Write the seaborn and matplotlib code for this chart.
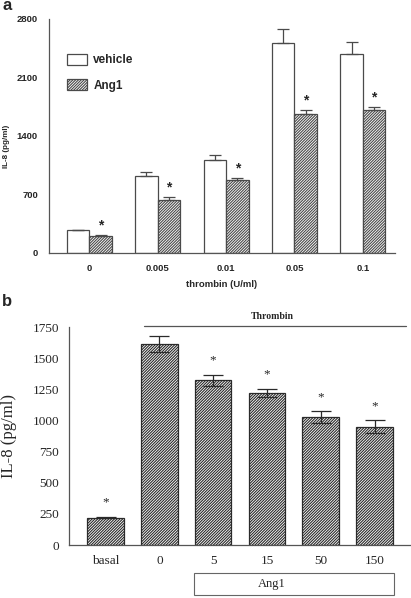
import pandas as pd
import numpy as np
import matplotlib
matplotlib.use("Agg")
import matplotlib.pyplot as plt
import seaborn as sns
from matplotlib.patches import Patch, Rectangle
from matplotlib.lines import Line2D

# ─── data ──────────────────────────────────────────────
# panel a : thrombin dose, vehicle vs Ang1
thrombin_doses = ["0", "0.005", "0.01", "0.05", "0.1"]
vehicle_mean = [270, 920, 1105, 2510, 2375]
vehicle_err = [5, 50, 60, 170, 145]
ang1_mean = [195, 625, 875, 1655, 1705]
ang1_err = [12, 38, 15, 48, 35]
groups = ["vehicle", "Ang1"]

# panel b : Ang1 dose under thrombin
ang1_doses = ["basal", "0", "5", "15", "50", "150"]
il8_mean = [219, 1614, 1323, 1221, 1026, 951]
il8_err = [5, 67, 45, 35, 46, 49]
star_b = [True, False, True, True, True, True]

HATCH = "/" * 12

sns.set_style("white")
plt.rcParams["hatch.linewidth"] = 0.8
plt.rcParams["hatch.color"] = "#333333"

fig = plt.figure(figsize=(4.11, 5.98), dpi=100)
W, H = 411, 598

def fax(l, t, r, b):
    return fig.add_axes([l / W, 1 - b / H, (r - l) / W, (b - t) / H])

# ─── panel a ──────────────────────────────────────────
axa = fax(49, 18.5, 395, 252.7)
dfa = pd.DataFrame({
    "thrombin": thrombin_doses * 2,
    "IL8": vehicle_mean + ang1_mean,
    "group": ["vehicle"] * 5 + ["Ang1"] * 5,
})
sns.barplot(data=dfa, x="thrombin", y="IL8", hue="group",
            order=thrombin_doses, hue_order=groups,
            palette=["white", "white"], edgecolor="#4a4a4a", linewidth=0.9,
            width=0.66, gap=0, errorbar=None, legend=False, ax=axa)
bars = axa.patches
for p in bars[5:]:
    p.set_hatch(HATCH)

xs = [p.get_x() + p.get_width() / 2 for p in bars]
tops = vehicle_mean + ang1_mean
errs = vehicle_err + ang1_err
axa.errorbar(xs, tops, yerr=[np.zeros(10), errs], fmt="none",
             ecolor="#4a4a4a", elinewidth=0.9, capsize=4.3, capthick=0.9)
for x, t, e in zip(xs[5:], ang1_mean, ang1_err):
    axa.annotate("*", (x, t + e), xytext=(0, 2), textcoords="offset points",
                 ha="center", va="bottom", fontsize=10, fontweight="bold",
                 family="Liberation Sans")

axa.set_xlim(-0.59, 4.47)
axa.set_ylim(0, 2800)
axa.set_yticks([0, 700, 1400, 2100, 2800])
for s in ["top", "right"]:
    axa.spines[s].set_visible(False)
for s in ["left", "bottom"]:
    axa.spines[s].set_color("#555555")
    axa.spines[s].set_linewidth(0.9)
axa.tick_params(axis="y", direction="in", length=3, width=0.8, pad=8,
                color="#555555")
axa.tick_params(axis="x", length=0, pad=8)
for lab in axa.get_xticklabels() + axa.get_yticklabels():
    lab.set_fontfamily("Liberation Sans")
    lab.set_fontweight("bold")
    lab.set_fontsize(6.8)
axa.set_xlabel("thrombin (U/ml)", family="Liberation Sans", fontweight="bold",
               fontsize=6.8)
axa.xaxis.set_label_coords(0.5, -0.115)
axa.set_ylabel("IL-8 (pg/ml)", family="Liberation Sans", fontweight="bold",
               fontsize=5.8)
axa.yaxis.set_label_coords(-0.113, 0.455)

handles = [Patch(facecolor="white", edgecolor="#4a4a4a", linewidth=0.9),
           Patch(facecolor="white", edgecolor="#4a4a4a", linewidth=0.9,
                 hatch=HATCH)]
axa.legend(handles, groups, loc="upper left", bbox_to_anchor=(0.051, 0.85),
           frameon=False, borderpad=0, borderaxespad=0, handlelength=1.75,
           handleheight=1.05, handletextpad=0.5, labelspacing=1.1,
           prop={"family": "Liberation Sans", "weight": "bold", "size": 8.5})

# ─── panel b ──────────────────────────────────────────
axb = fax(69, 327, 410, 545)
dfb = pd.DataFrame({"dose": ang1_doses, "IL8": il8_mean})
sns.barplot(data=dfb, x="dose", y="IL8", order=ang1_doses, color="white",
            edgecolor="#2a2a2a", linewidth=0.9, width=0.68, errorbar=None,
            ax=axb)
for p in axb.patches:
    p.set_hatch(HATCH)
xb = [p.get_x() + p.get_width() / 2 for p in axb.patches]
axb.errorbar(xb, il8_mean, yerr=il8_err, fmt="none", ecolor="#2a2a2a",
             elinewidth=0.9, capsize=7, capthick=0.9)
for x, t, e, s in zip(xb, il8_mean, il8_err, star_b):
    if s:
        axb.annotate("*", (x, t + e), xytext=(0, 6), textcoords="offset points",
                     ha="center", va="bottom", fontsize=9.5,
                     family="Liberation Serif")

axb.set_xlim(-0.68, 5.66)
axb.set_ylim(0, 1750)
axb.set_yticks(np.arange(0, 1751, 250))
for s in ["top", "right"]:
    axb.spines[s].set_visible(False)
for s in ["left", "bottom"]:
    axb.spines[s].set_color("#555555")
    axb.spines[s].set_linewidth(0.9)
axb.tick_params(axis="y", direction="in", length=3, width=0.8, pad=7,
                color="#555555")
axb.tick_params(axis="x", length=0, pad=7)
for lab in axb.get_xticklabels() + axb.get_yticklabels():
    lab.set_fontfamily("Liberation Serif")
    lab.set_fontsize(9.5)
axb.set_xlabel("")
axb.set_ylabel("IL-8 (pg/ml)", family="Liberation Serif", fontsize=12)
axb.yaxis.set_label_coords(-0.152, 0.5)

# Thrombin bracket line and Ang1 box
fig.add_artist(Line2D([144 / W, 406 / W], [1 - 325.7 / H, 1 - 325.7 / H],
                      color="#555555", linewidth=0.9))
fig.text(272.7 / W, 1 - 316.5 / H, "Thrombin", ha="center", va="center",
         family="Liberation Serif", fontweight="bold", fontsize=7)
fig.add_artist(Rectangle((194 / W, 1 - 595 / H), 200 / W, 22.5 / H,
                         facecolor="white", edgecolor="#666666",
                         linewidth=0.8, transform=fig.transFigure))
fig.text(272 / W, 1 - 584.5 / H, "Ang1", ha="center", va="center",
         family="Liberation Serif", fontsize=9)

# panel letters
fig.text(2 / W, 1 - 6 / H, "a", ha="left", va="center",
         family="Liberation Sans", fontweight="bold", fontsize=12)
fig.text(2 / W, 1 - 302 / H, "b", ha="left", va="center",
         family="Liberation Sans", fontweight="bold", fontsize=12)

fig.savefig("out.png", dpi=100)
